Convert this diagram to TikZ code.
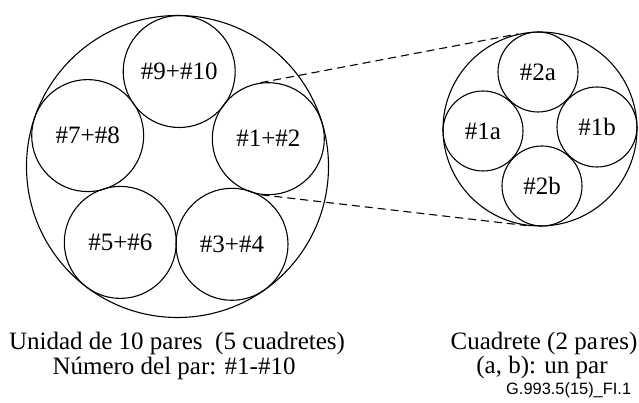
\documentclass[tikz,border=0pt]{standalone}
\usepackage{fontspec}
\setmainfont{Liberation Serif}
\newfontfamily\figfont{Liberation Sans}
\usepackage{tikz}
\usetikzlibrary{calc,positioning}

\begin{document}
\begin{tikzpicture}[x=1pt, y=1pt, line width=1.1pt,
  every node/.style={font=\fontsize{25}{28}\selectfont},
  cable/.style={draw, circle, inner sep=0pt, minimum size=302pt},
  pairquad/.style={draw, circle, inner sep=0pt, minimum size=112pt},
  quadring/.style={draw, circle, inner sep=0pt, minimum size=194pt},
  wire/.style={draw, circle, inner sep=0pt, minimum size=80pt},
  zoomline/.style={dash pattern=on 8pt off 5pt}]
  \useasboundingbox (0,0) rectangle (639,403);

  % 10-pair unit
  \node[cable] (unit) at (177.5,236.5) {};
  \node[pairquad] (q9) at (179.2,331.5) {\#9+\#10};
  \node[pairquad] (q1) at (268.3,264.3) {\#1+\#2};
  \node[pairquad] (q3) at (232,158.7) {\#3+\#4};
  \node[pairquad] (q5) at (120.3,160.6) {\#5+\#6};
  \node[pairquad] (q7) at (87.7,267.4) {\#7+\#8};

  % Quad
  \node[quadring] (quad) at (540,274) {};
  \node[wire] (w2a) at (538,331) {\#2a};
  \node[wire] (w1b) at (597,276) {\#1b};
  \node[wire] (w2b) at (542,217) {\#2b};
  \node[wire] (w1a) at (483,272) {\#1a};

  \draw[zoomline] (q1.98) -- (quad.103);
  \draw[zoomline] (q1.-97) -- (quad.-98);

  % Captions
  \node[anchor=base] (unitcap) at (177,53) {Unidad de 10 pares\ \ (5 cuadretes)};
  \node[anchor=base] (unitnum) at (174,28) {Número del par: \#1-\#10};
  \node[anchor=base] (quadcap) at (544,53) {Cuadrete (2 pa\kern2pt res)};
  \node[anchor=base] (quadpar) at (542,29) {(a, b): un par};
  \node[anchor=base east, font=\figfont\fontsize{16.4}{18}\selectfont] (figid) at (635,8) {G.993.5(15)\_FI.1};
\end{tikzpicture}
\end{document}
